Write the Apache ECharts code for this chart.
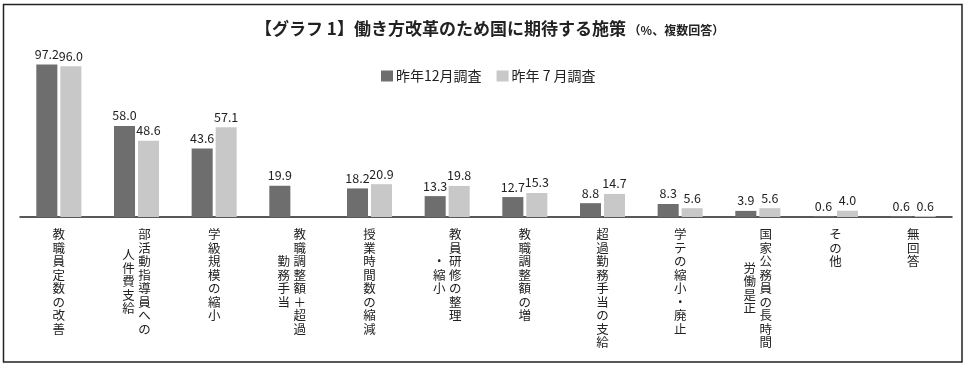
<!DOCTYPE html>
<html>
<head>
<meta charset="utf-8">
<script src="https://cdn.jsdelivr.net/npm/echarts@6/dist/echarts.min.js"></script>
<style>
html,body{margin:0;padding:0;background:#fff;}
#chart{width:967px;height:368px;}
</style>
</head>
<body>
<div id="chart"></div>
<script>
// ---- data ----
const categories = [
  "教職員定数の改善",
  "部活動指導員への\n人件費支給",
  "学級規模の縮小",
  "教職調整額＋超過\n勤務手当",
  "授業時間数の縮減",
  "教員研修の整理\n・縮小",
  "教職調整額の増",
  "超過勤務手当の支給",
  "学テの縮小・廃止",
  "国家公務員の長時間\n労働是正",
  "その他",
  "無回答"
];
const seriesNames = ["昨年12月調査", "昨年 7 月調査"];
const dec = [97.2, 58.0, 43.6, 19.9, 18.2, 13.3, 12.7, 8.8, 8.3, 3.9, 0.6, 0.6];
const jul = [96.0, 48.6, 57.1, null, 20.9, 19.8, 15.3, 14.7, 5.6, 5.6, 4.0, 0.6];

// ---- layout helpers ----
// start of the second (left) text column, in half rows
const col2Offset = {1: 3, 3: 4, 5: 4, 9: 5};

function cell(ch) { return '{c|' + (ch || '\u3000') + '}'; }
function vertLabel(value, idx) {
  const cols = value.split('\n');
  const c1 = Array.from(cols[0]);
  const c2 = cols.length > 1 ? Array.from(cols[1]) : null;
  const off = col2Offset[idx] || 0;
  let rows = 2 * c1.length - 1;
  if (c2) rows = Math.max(rows, off + 2 * c2.length - 1);
  const lines = [];
  for (let r = 0; r < rows; r++) {
    const a = (r % 2 === 0 && r / 2 < c1.length) ? c1[r / 2] : null;
    let line = '';
    if (c2) {
      const k = r - off;
      const b = (k >= 0 && k % 2 === 0 && k / 2 < c2.length) ? c2[k / 2] : null;
      line += cell(b);
    }
    line += cell(a);
    lines.push(line);
  }
  return lines.join('\n');
}

const FONT = '"Noto Sans CJK JP", "Noto Sans", sans-serif';
const chart = echarts.init(document.getElementById('chart'), null, {renderer: 'canvas'});

const labelCfg = {
  show: true,
  position: 'top',
  distance: 4,
  fontSize: 12.5,
  color: '#222',
  fontFamily: FONT,
  formatter: p => (p.value == null ? '' : Number(p.value).toFixed(1))
};

chart.setOption({
  animation: false,
  backgroundColor: '#fff',
  title: {
    left: 250,
    top: 15,
    text: '{m|【グラフ 1】働き方改革のため国に期待する施策}{s| （%、複数回答）}',
    textStyle: {
      rich: {
        m: {fontSize: 17, fontWeight: 'bold', color: '#222', fontFamily: FONT},
        s: {fontSize: 12, fontWeight: 'bold', color: '#222', fontFamily: FONT, padding: [3, 0, 0, 0]}
      }
    }
  },
  legend: {
    left: 376,
    top: 64,
    itemWidth: 12,
    itemHeight: 11,
    itemGap: 15,
    icon: 'rect',
    textStyle: {fontSize: 14, color: '#222', fontFamily: FONT, padding: [0, 0, 0, -2]},
    data: seriesNames
  },
  grid: {left: 20, right: 15, top: 60, bottom: 151},
  xAxis: {
    type: 'category',
    data: categories,
    axisLine: {lineStyle: {color: '#222', width: 1.5}},
    axisTick: {show: false},
    axisLabel: {
      interval: 0,
      margin: 14,
      formatter: vertLabel,
      rich: {
        c: {width: 16, align: 'center', fontSize: 12.5, lineHeight: 6.75, color: '#222', fontFamily: FONT}
      }
    }
  },
  yAxis: {
    type: 'value',
    min: 0,
    max: 100,
    show: false
  },
  series: [
    {
      name: seriesNames[0],
      type: 'bar',
      data: dec,
      barGap: '14%',
      barCategoryGap: '42%',
      itemStyle: {color: '#6e6e6e'},
      label: labelCfg
    },
    {
      name: seriesNames[1],
      type: 'bar',
      data: jul,
      itemStyle: {color: '#c8c8c8'},
      label: labelCfg
    }
  ],
  graphic: [{
    type: 'rect',
    silent: true,
    shape: {x: 3.5, y: 4.5, width: 958.5, height: 357.5},
    style: {fill: 'none', stroke: '#222', lineWidth: 1.5}
  }]
});
</script>
</body>
</html>
